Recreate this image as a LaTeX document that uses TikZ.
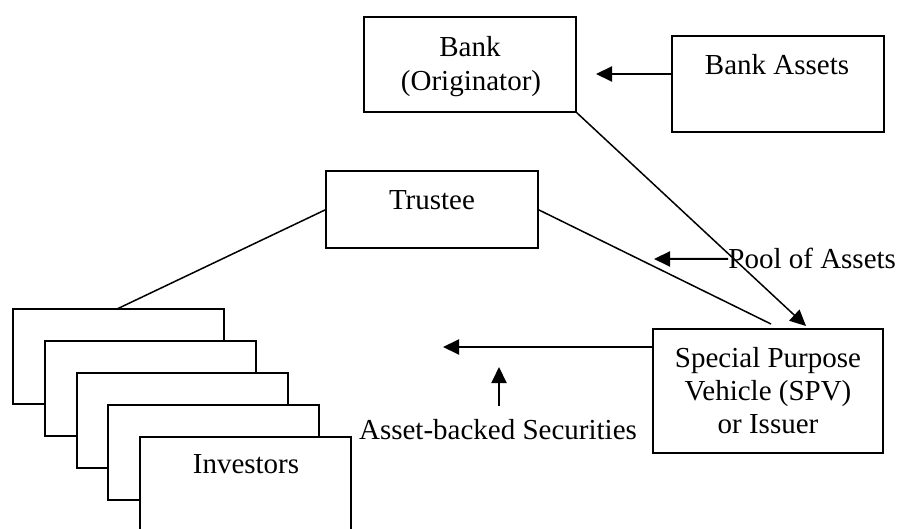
\documentclass[tikz,border=0pt]{standalone}
\usepackage{fontspec}
\setmainfont{Liberation Serif}
\usetikzlibrary{arrows.meta}
\begin{document}
\begin{tikzpicture}[x=0.5pt,y=-0.5pt,
  box/.style={draw, line width=1pt, fill=white, inner sep=0pt, outer sep=0pt, rectangle},
  txt/.style={anchor=base, inner sep=0pt, font=\fontsize{14.5}{17}\selectfont},
  conn/.style={line width=0.75pt},
  arr/.style={line width=1pt, -{Triangle[length=8pt,width=7.5pt]}}]
\useasboundingbox (0,0) rectangle (899,529);
% boxes
\node[box, minimum width=106pt, minimum height=47.5pt] (bank) at (470,64.5) {};
\node[box, minimum width=106pt, minimum height=48pt] (assets) at (778,84) {};
\node[box, minimum width=106pt, minimum height=38.5pt] (trustee) at (432,209.5) {};
\node[box, minimum width=115pt, minimum height=62pt] (spv) at (768,391) {};
\foreach \i in {0,...,4}{
  \node[box, minimum width=105.5pt, minimum height=47.5pt] (inv\i) at ({118.5+31.75*\i},{356.5+32*\i}) {};
}
% texts
\node[txt] (tbank1) at (470,57) {Bank};
\node[txt] (tbank2) at (471,91) {(Originator)};
\node[txt] (tassets) at (777,75) {Bank Assets};
\node[txt] (ttrustee) at (432,210) {Trustee};
\node[txt, anchor=base west] (tpool) at (728,269) {Pool of Assets};
\node[txt] (tspv1) at (768,367) {Special Purpose};
\node[txt] (tspv2) at (768,400) {Vehicle (SPV)};
\node[txt] (tspv3) at (768,433) {or Issuer};
\node[txt] (tinv) at (246,473) {Investors};
\node[txt] (tabs) at (498,439) {Asset-backed Securities};
% connector end points
\coordinate (aS) at (672,74);
\coordinate (aE) at (596,74);
\coordinate (pE) at (654,259);
\coordinate (spvTip) at (806,326);
\coordinate (trR) at (771,324);
\coordinate (invT) at (117,309);
\coordinate (sS) at (653,347);
\coordinate (sE) at (443,347);
\coordinate (uS) at (499,406);
\coordinate (uE) at (499,367);
% connectors
\draw[arr] (aS) -- (aE);
\draw[arr] (tpool.west) -- (pE);
\draw[arr, line width=0.75pt] (bank.south east) -- (spvTip);
\draw[conn] (trustee.east) -- (trR);
\draw[conn] (trustee.west) -- (invT);
\draw[arr] (sS) -- (sE);
\draw[arr] (uS) -- (uE);
\end{tikzpicture}
\end{document}
